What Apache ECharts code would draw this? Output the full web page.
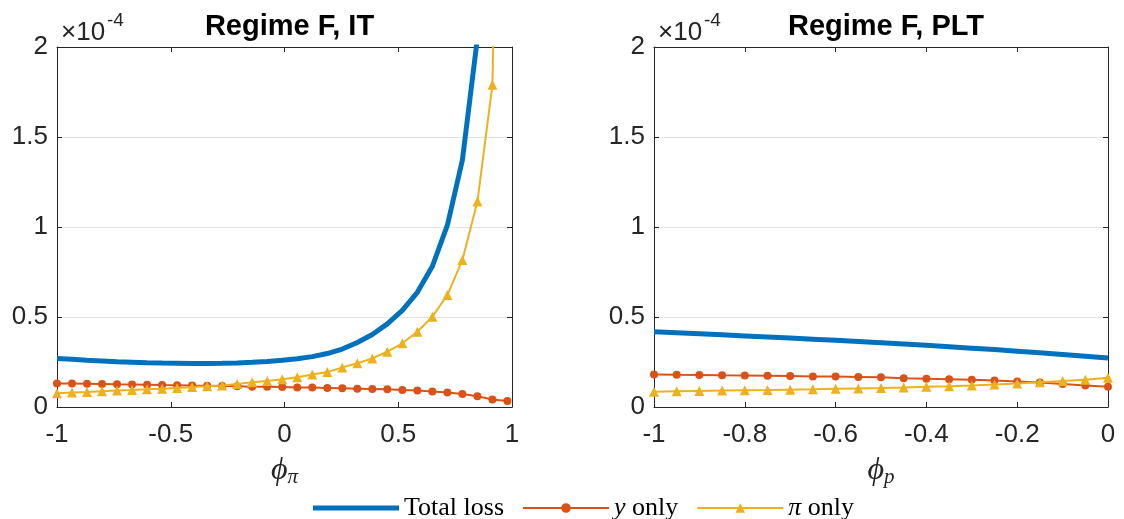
<!DOCTYPE html>
<html>
<head>
<meta charset="utf-8">
<script src="https://cdn.jsdelivr.net/npm/echarts@6/dist/echarts.min.js"></script>
<style>
html,body{margin:0;padding:0;background:#fff;}
#chart{width:1124px;height:519px;}
</style>
</head>
<body>
<div id="chart"></div>
<script>
// ---- data (loss values in units of 1e-4) ----
const phiPi = [-1, -0.934, -0.868, -0.802, -0.736, -0.67, -0.604, -0.538, -0.472, -0.406, -0.34, -0.274, -0.208, -0.142, -0.076, -0.01, 0.056, 0.122, 0.188, 0.254, 0.32, 0.386, 0.452, 0.518, 0.584, 0.65, 0.716, 0.782, 0.848, 0.914, 0.98];
const totalIT = [0.270,0.265,0.260,0.256,0.252,0.249,0.246,0.244,0.243,0.242,0.242,0.243,0.245,0.248,0.253,0.260,0.268,0.280,0.297,0.322,0.358,0.403,0.462,0.537,0.637,0.782,1.010,1.372,2.05,3.5,7.0];
const yOnlyIT = [0.131,0.130,0.129,0.128,0.126,0.125,0.124,0.122,0.121,0.119,0.118,0.117,0.115,0.113,0.112,0.111,0.109,0.108,0.106,0.104,0.102,0.100,0.098,0.094,0.091,0.086,0.081,0.072,0.060,0.042,0.033];
const piOnlyIT = [0.076,0.081,0.083,0.087,0.091,0.094,0.098,0.102,0.106,0.111,0.115,0.120,0.128,0.137,0.144,0.154,0.165,0.180,0.194,0.220,0.243,0.270,0.307,0.354,0.418,0.502,0.622,0.817,1.141,1.79,6.0];

const phiP = [-1,-0.95,-0.9,-0.85,-0.8,-0.75,-0.7,-0.65,-0.6,-0.55,-0.5,-0.45,-0.4,-0.35,-0.3,-0.25,-0.2,-0.15,-0.1,-0.05,0];
const totalPLT = [0.418,0.4125,0.407,0.401,0.395,0.389,0.383,0.377,0.371,0.364,0.357,0.350,0.343,0.335,0.327,0.319,0.310,0.301,0.292,0.282,0.272];
const yOnlyPLT = [0.181,0.179,0.178,0.176,0.175,0.174,0.172,0.170,0.169,0.167,0.165,0.160,0.157,0.154,0.151,0.147,0.142,0.136,0.128,0.120,0.113];
const piOnlyPLT = [0.085,0.087,0.089,0.091,0.093,0.094,0.096,0.098,0.101,0.103,0.105,0.108,0.112,0.115,0.119,0.125,0.131,0.137,0.144,0.152,0.162];

const titles = ['Regime F, IT', 'Regime F, PLT'];
const seriesNames = ['Total loss', 'y only', 'π only'];

// ---- styling ----
const AX = '#262626';
const FONT = 'Liberation Sans, Arial, sans-serif';
const SERIF = 'Liberation Serif, DejaVu Serif, serif';
const COLORS = ['#0072BD', '#D95319', '#EDB120'];

const grids = [
  {left: 57, top: 47, width: 455, height: 360},
  {left: 654, top: 47, width: 454, height: 360}
];

function pairs(xs, ys) { return xs.map((x, i) => [x, ys[i]]); }

function xAxes(gi, min, max, interval, nameRich) {
  const base = {
    type: 'value', gridIndex: gi, min: min, max: max, interval: interval,
    axisLine: {show: true, onZero: false, lineStyle: {color: AX, width: 1}},
    axisTick: {show: true, inside: true, length: 5, lineStyle: {color: AX}},
    splitLine: {show: false}
  };
  return [
    Object.assign({}, base, {
      position: 'bottom',
      axisLabel: {show: true, color: AX, fontFamily: FONT, fontSize: 26, margin: 15,
                  showMinLabel: true, showMaxLabel: true},
      name: nameRich, nameLocation: 'middle', nameGap: 43,
      nameTextStyle: {
        color: AX,
        rich: {
          phi: {fontFamily: SERIF, fontStyle: 'italic', fontSize: 32, color: AX, lineHeight: 34},
          sub: {fontFamily: SERIF, fontStyle: 'italic', fontSize: 21, color: AX, lineHeight: 34, verticalAlign: 'bottom', padding: [14, 0, 0, 0]}
        }
      }
    }),
    Object.assign({}, base, {position: 'top', axisLabel: {show: false}})
  ];
}

function yAxes(gi) {
  const base = {
    type: 'value', gridIndex: gi, min: 0, max: 2, interval: 0.5,
    axisLine: {show: true, onZero: false, lineStyle: {color: AX, width: 1}},
    axisTick: {show: true, inside: true, length: 5, lineStyle: {color: AX}}
  };
  return [
    Object.assign({}, base, {
      position: 'left',
      axisLabel: {show: true, color: AX, fontFamily: FONT, fontSize: 26, margin: 9},
      splitLine: {show: true, lineStyle: {color: '#e3e3e3', width: 1}}
    }),
    Object.assign({}, base, {position: 'right', axisLabel: {show: false}, splitLine: {show: false}})
  ];
}

function panelSeries(xi, yi, xs, total, yonly, pionly) {
  return [
    {name: seriesNames[0], type: 'line', xAxisIndex: xi, yAxisIndex: yi, data: pairs(xs, total),
     symbol: 'none', lineStyle: {color: COLORS[0], width: 5}, itemStyle: {color: COLORS[0]},
     clip: true, animation: false, z: 2},
    {name: seriesNames[1], type: 'line', xAxisIndex: xi, yAxisIndex: yi, data: pairs(xs, yonly),
     symbol: 'circle', symbolSize: 8, showAllSymbol: true,
     lineStyle: {color: COLORS[1], width: 2}, itemStyle: {color: COLORS[1]},
     clip: true, animation: false, z: 3},
    {name: seriesNames[2], type: 'line', xAxisIndex: xi, yAxisIndex: yi, data: pairs(xs, pionly),
     symbol: 'triangle', symbolSize: 10, showAllSymbol: true,
     lineStyle: {color: COLORS[2], width: 2}, itemStyle: {color: COLORS[2]},
     clip: true, animation: false, z: 4}
  ];
}

const xa = [].concat(
  xAxes(0, -1, 1, 0.5, '{phi|ϕ}{sub|π}'),
  xAxes(1, -1, 0, 0.2, '{phi|ϕ}{sub|p}')
);
const ya = [].concat(yAxes(0), yAxes(1));

const expLabels = [];
grids.forEach(g => {
  expLabels.push({type: 'text', left: g.left + 4, top: 20,
    style: {text: '×10', font: '26px ' + FONT, fill: AX}});
  expLabels.push({type: 'text', left: g.left + 50, top: 11,
    style: {text: '-4', font: '19px ' + FONT, fill: AX}});
});

const chart = echarts.init(document.getElementById('chart'), null, {renderer: 'canvas'});
chart.setOption({
  animation: false,
  backgroundColor: '#fff',
  title: titles.map((t, i) => ({
    text: t, left: grids[i].left + grids[i].width / 2, top: 7, textAlign: 'center',
    textStyle: {fontFamily: FONT, fontWeight: 'bold', fontSize: 29, color: '#000'}
  })),
  grid: grids,
  xAxis: xa,
  yAxis: ya,
  legend: {
    data: [
      {name: seriesNames[0], icon: 'path://M0,0M86,12M0,3.5L86,3.5L86,8.5L0,8.5Z'},
      {name: seriesNames[1]},
      {name: seriesNames[2]}
    ],
    left: 308, top: 490, itemWidth: 86, itemHeight: 12, itemGap: 18,
    textStyle: {fontFamily: SERIF, fontSize: 26, color: '#000',
      rich: {it: {fontFamily: SERIF, fontStyle: 'italic', fontSize: 26, color: '#000'}}},
    formatter: function (n) {
      if (n === 'y only') return '{it|y} only';
      if (n === 'π only') return '{it|π} only';
      return n;
    }
  },
  graphic: expLabels,
  series: [].concat(
    panelSeries(0, 0, phiPi, totalIT, yOnlyIT, piOnlyIT),
    panelSeries(2, 2, phiP, totalPLT, yOnlyPLT, piOnlyPLT)
  )
});
</script>
</body>
</html>
